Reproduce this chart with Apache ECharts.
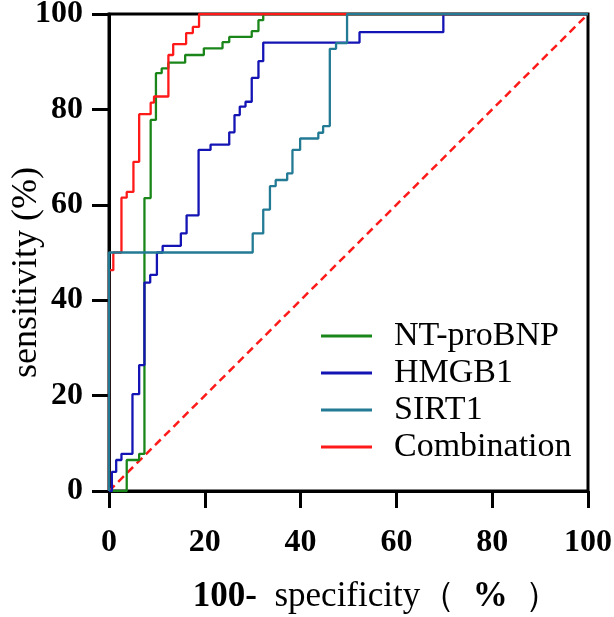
<!DOCTYPE html>
<html>
<head>
<meta charset="utf-8">
<script src="https://cdn.jsdelivr.net/npm/echarts@6/dist/echarts.min.js"></script>
<style>
html,body{margin:0;padding:0;background:#fff;}
#main{width:614px;height:617px;}
</style>
</head>
<body>
<div id="main"></div>
<script>
// ROC 曲线数据（100-特异度, 灵敏度），阶梯拐点
var ticks = [0, 20, 40, 60, 80, 100];
var names = ['NT-proBNP', 'HMGB1', 'SIRT1', 'Combination'];

var ntProBNP = [[0,0],[3.7,0],[3.7,6.5],[6.3,6.5],[6.3,7.8],[7.4,7.8],[7.4,61.4],[8.7,61.4],[8.7,77.8],
    [9.8,77.8],[9.8,87.6],[11,87.6],[11,88.6],[12.4,88.6],[12.4,89.8],[15.9,89.8],[15.9,91.4],[19.8,91.4],
    [19.8,92.8],[23.7,92.8],[23.7,94.1],[25.1,94.1],[25.1,95.2],[29.8,95.2],[29.8,96.4],[31.2,96.4],
    [31.2,98.7],[32.2,98.7],[32.2,100],[100,100]];

var hmgb1 = [[0,0],[0.6,0],[0.6,4],[1.5,4],[1.5,6.5],[2.6,6.5],[2.6,7.8],[4.9,7.8],[4.9,20.3],[6.3,20.3],
    [6.3,26.4],[7.4,26.4],[7.4,43.7],[8.6,43.7],[8.6,45.3],[10,45.3],[10,50],[11.2,50],[11.2,51.4],[15,51.4],
    [15,54],[16.2,54],[16.2,57.8],[18.7,57.8],[18.7,71.5],[21.2,71.5],[21.2,72.6],[25.1,72.6],[25.1,75.2],
    [26.2,75.2],[26.2,78.8],[27.3,78.8],[27.3,80.6],[28.5,80.6],[28.5,81.6],[29.8,81.6],[29.8,86.6],
    [31.2,86.6],[31.2,90.1],[32.2,90.1],[32.2,94],[52.3,94],[52.3,96.2],[69.8,96.2],[69.8,100],[100,100]];

var sirt1 = [[0,0],[0,50],[30,50],[30,54],[32.2,54],[32.2,59],[33.6,59],[33.6,63.9],[34.8,63.9],[34.8,65.2],
    [37.2,65.2],[37.2,66.6],[38.3,66.6],[38.3,71.5],[39.9,71.5],[39.9,73.9],[43.7,73.9],[43.7,75.1],
    [44.7,75.1],[44.7,76.5],[46.1,76.5],[46.1,92.7],[47.4,92.7],[47.4,93.9],[49.7,93.9],[49.7,100],[100,100]];

var combination = [[0,0],[0,46.3],[0.9,46.3],[0.9,50],[2.6,50],[2.6,61.5],[3.7,61.5],[3.7,62.7],[5.1,62.7],
    [5.1,69],[6.3,69],[6.3,79],[8.7,79],[8.7,81.4],[9.4,81.4],[9.4,82.7],[12.4,82.7],[12.4,91.4],[13.4,91.4],
    [13.4,93.7],[16.1,93.7],[16.1,96],[17.5,96],[17.5,97.3],[18.8,97.3],[18.8,100],[100,100]];

var refLine = [[0,0],[100,100]];

var myChart = echarts.init(document.getElementById('main'));

var serif = '"Liberation Serif", "Times New Roman", serif';

function curve(name, data, color) {
    return {
        name: name,
        type: 'line',
        data: data,
        showSymbol: false,
        symbol: 'none',
        animation: false,
        lineStyle: { color: color, width: 2.3 },
        itemStyle: { color: color }
    };
}

function axisBase() {
    return {
        type: 'value',
        min: 0,
        max: 100,
        interval: 20,
        splitLine: { show: false },
        axisLine: { show: true, lineStyle: { color: '#000', width: 3 } },
        axisTick: { show: true, length: 17, lineStyle: { color: '#000', width: 3 } },
        axisLabel: {
            color: '#000',
            fontFamily: serif,
            fontWeight: 'bold',
            fontSize: 32
        }
    };
}

var xAxis = axisBase();
xAxis.axisLabel.margin = 36;
xAxis.name = '{b|100-}  specificity（  {b|%}  ）';
xAxis.nameLocation = 'middle';
xAxis.nameGap = 88;
xAxis.nameTextStyle = {
    color: '#000', fontFamily: serif, fontSize: 35, padding: [0, 0, 0, 56],
    rich: { b: { fontFamily: serif, fontSize: 35, fontWeight: 'bold', color: '#000' } }
};

var yAxis = axisBase();
yAxis.axisLabel.margin = 26;
yAxis.name = 'sensitivity (%)';
yAxis.nameLocation = 'middle';
yAxis.nameGap = 64;
yAxis.nameMoveOverlap = false;
yAxis.nameTextStyle = { color: '#000', fontFamily: serif, fontSize: 36, padding: [0, 40, 0, 0] };

myChart.setOption({
    backgroundColor: '#fff',
    animation: false,
    grid: {
        left: 109, right: 26, top: 14, bottom: 126,
        outerBoundsMode: 'none',
        containLabel: false,
        show: true, borderColor: '#000', borderWidth: 3, backgroundColor: 'transparent'
    },
    legend: {
        orient: 'vertical',
        left: 316,
        top: 314,
        icon: 'rect',
        itemWidth: 51,
        itemHeight: 3,
        itemGap: 3,
        data: names,
        textStyle: { color: '#000', fontFamily: serif, fontSize: 34, lineHeight: 34, padding: [0, 0, 0, 17] }
    },
    xAxis: xAxis,
    yAxis: yAxis,
    series: [
        {
            type: 'line',
            data: refLine,
            showSymbol: false,
            symbol: 'none',
            lineStyle: { color: '#ff1a1a', width: 2.5, type: [8, 5] },
            silent: true
        },
        curve(names[0], ntProBNP, '#1a861a'),
        curve(names[1], hmgb1, '#1414b4'),
        curve(names[3], combination, '#ff1a1a'),
        curve(names[2], sirt1, '#237a94')
    ]
});
</script>
</body>
</html>
